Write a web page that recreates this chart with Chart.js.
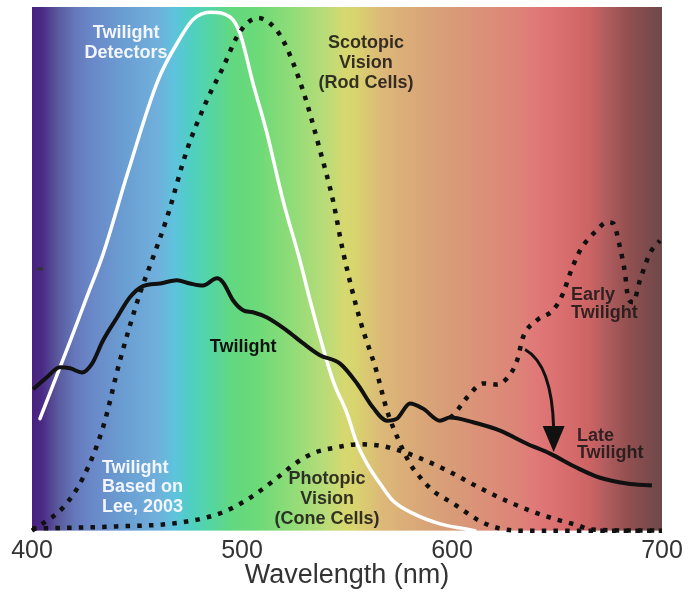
<!DOCTYPE html>
<html>
<head>
<meta charset="utf-8">
<script src="https://cdn.jsdelivr.net/npm/chart.js@4.4.1/dist/chart.umd.min.js"></script>
<style>
  html, body { margin: 0; padding: 0; background: #fff; }
  #wrap { width: 699px; height: 594px; }
</style>
</head>
<body>
<div id="wrap"><canvas id="myChart"></canvas></div>
<script>
// x axis ticks (nm)
const xTicks = [400, 500, 600, 700];

// Twilight detectors (white curve)
const detectorNm  = [403.8, 418, 426, 434, 445.7, 460, 470.5, 476.7, 484.8, 494.3, 499, 505.2, 511.9, 519.5, 527.6, 532.4, 543.3, 550, 554.8, 559.5, 565.7, 571.9, 581.4, 594.3, 605.2, 611];
const detectorVal = [21.4, 36.0, 44.5, 53.0, 68.5, 86.0, 94.0, 97.6, 99.0, 98.1, 95.0, 85.5, 75.9, 63.1, 51.6, 44.0, 28.7, 22.4, 16.6, 12.8, 9.0, 5.7, 3.3, 1.3, 0.4, 0];

// Scotopic vision (rod cells)
const rodNm  = [400, 403.8, 414.8, 424.3, 433.8, 441.9, 451.4, 457.1, 464.3, 473.8, 483.3, 491, 497.6, 502.4, 507.6, 513.3, 519.5, 529, 537.1, 543.3, 548, 556, 564, 569, 574, 580, 585, 591, 600.5, 613, 621, 632, 700];
const rodVal = [0, 1.0, 4.4, 10.1, 19.7, 32.5, 45.3, 51.6, 59.8, 72.7, 82.2, 88.5, 94.3, 96.9, 97.9, 96.9, 93.7, 84.1, 72.7, 63.1, 53.5, 40.5, 30.5, 23, 17.8, 12.8, 10.1, 7.6, 5.2, 1.9, 0.6, 0, 0];

// Photopic vision (cone cells)
const coneNm  = [400, 440, 470, 489.5, 502, 510, 518, 526, 534, 545, 556, 566, 575, 585, 597.6, 613, 627.6, 640, 650, 660, 666, 700];
const coneVal = [0.4, 0.8, 1.5, 3.3, 5.8, 8, 10.5, 13, 14.8, 15.9, 16.5, 16.2, 15.3, 13.8, 11.5, 8.2, 5.4, 3.4, 2.1, 1.0, 0.2, 0];

// Twilight based on Lee 2003 (late twilight, solid)
const twilightNm  = [400.5, 407.1, 413.3, 418.1, 423.8, 428.6, 433.8, 440.5, 446.7, 452.9, 461, 469, 475.2, 481.4, 488.1, 491, 495.7, 500.5, 505.2, 511.9, 521.4, 529, 537.1, 546.7, 554.8, 562.4, 569, 573.8, 580, 586.2, 594.3, 599, 610, 622.9, 635.7, 646.7, 659.5, 670.5, 683.3, 695.2];
const twilightVal = [27.0, 29.3, 31.2, 31.0, 30.2, 31.9, 36.3, 40.7, 44.6, 46.7, 47.2, 47.8, 47.2, 46.8, 48.2, 47.4, 44.0, 42.1, 41.7, 40.7, 38.2, 35.8, 33.5, 31.9, 28.1, 23.5, 21.0, 21.4, 24.3, 23.3, 21.0, 21.6, 20.7, 19.1, 16.6, 14.7, 12.0, 10.1, 9.0, 8.6];

// Early twilight (dotted, branches off at ~600 nm)
const earlyNm  = [599, 600.5, 607.1, 614.8, 621.4, 626.2, 631, 633.8, 640.5, 648.1, 652.9, 656.2, 661, 669, 673.8, 676.7, 680, 682.4, 683.8, 686.2, 689.5, 694.3, 699];
const earlyVal = [21.6, 22.0, 25.4, 28.1, 27.9, 29.1, 32.5, 36.9, 40.2, 42.1, 45.3, 49.1, 53.5, 57.4, 58.9, 58.7, 54.1, 49.1, 44.6, 43.6, 47.8, 53.0, 55.4];

// arrow early -> late twilight: start, bend, end (nm, value)
const arrowPath = [[634.8, 34.6], [647.6, 31.7], [648.4, 15.0]];

// spectrum background (nm -> colour)
const spectrumStops = [
  [400, '#4a2080'], [404.8, '#4a2a85'], [412.4, '#5a5a9e'], [420.5, '#6478bb'],
  [428.6, '#6a88c8'], [444.3, '#6a9ed2'], [460, '#70b0dc'], [468.1, '#5cc4dc'],
  [476.2, '#4fd0c0'], [485.7, '#55d6a0'], [495.2, '#62d880'], [507.6, '#6cda78'],
  [523.8, '#90dc78'], [539.5, '#b8dc78'], [549, '#d6d870'], [553.8, '#d8d46e'],
  [567.1, '#dcb878'], [583.3, '#daa878'], [599, '#d89c78'], [614.8, '#dc9078'],
  [631, '#dc8478'], [640.5, '#e07878'], [654.8, '#d86c6c'], [665.7, '#cc6464'],
  [673.8, '#b05c5e'], [683.3, '#945050'], [694.3, '#7a4a4c'], [700, '#6e4848']
];

const dark = 'rgba(28,24,24,0.88)';
const notes = [
  { lines: ['Twilight', 'Detectors'], at: [444.8, 95.0], gap: 20, align: 'center', color: '#f4f6ff' },
  { lines: ['Scotopic', 'Vision', '(Rod Cells)'], at: [559.0, 93.1], gap: 20, align: 'center', color: dark },
  { lines: ['Twilight'], at: [500.5, 35.0], gap: 20, align: 'center', color: '#111' },
  { lines: ['Twilight', 'Based on', 'Lee, 2003'], at: [433.3, 12.0], gap: 19.5, align: 'left', color: '#f4f6ff' },
  { lines: ['Photopic', 'Vision', '(Cone Cells)'], at: [540.5, 9.9], gap: 20, align: 'center', color: dark },
  { lines: ['Early', 'Twilight'], at: [656.7, 44.9], gap: 18, align: 'left', color: dark },
  { lines: ['Late', 'Twilight'], at: [659.5, 18.0], gap: 17, align: 'left', color: dark }
];

const pts = (xs, ys) => xs.map((x, i) => ({ x: x, y: ys[i] }));

const spectrumPlugin = {
  id: 'spectrum',
  beforeDatasetsDraw(chart) {
    const { ctx, chartArea: a, scales: { x } } = chart;
    const g = ctx.createLinearGradient(a.left, 0, a.right, 0);
    spectrumStops.forEach(([nm, c]) => {
      const t = (x.getPixelForValue(nm) - a.left) / (a.right - a.left);
      g.addColorStop(Math.min(1, Math.max(0, t)), c);
    });
    ctx.save();
    ctx.fillStyle = g;
    ctx.fillRect(a.left, a.top, a.right - a.left, a.bottom - a.top);
    // small mark on the left edge at half height
    ctx.strokeStyle = '#333';
    ctx.lineWidth = 3;
    const ym = chart.scales.y.getPixelForValue(50);
    ctx.beginPath();
    ctx.moveTo(a.left + 5, ym);
    ctx.lineTo(a.left + 11, ym);
    ctx.stroke();
    ctx.restore();
  }
};

const notesPlugin = {
  id: 'notes',
  afterDatasetsDraw(chart) {
    const { ctx, scales: { x, y } } = chart;
    ctx.save();

    // arrow
    const p = arrowPath.map(([nm, v]) => [x.getPixelForValue(nm), y.getPixelForValue(v)]);
    const headLen = 26, headHalf = 11;
    ctx.strokeStyle = '#111';
    ctx.fillStyle = '#111';
    ctx.lineWidth = 3;
    ctx.beginPath();
    ctx.moveTo(p[0][0], p[0][1]);
    ctx.quadraticCurveTo(p[1][0], p[1][1], p[2][0], p[2][1] - headLen + 2);
    ctx.stroke();
    ctx.beginPath();
    ctx.moveTo(p[2][0], p[2][1]);
    ctx.lineTo(p[2][0] - headHalf, p[2][1] - headLen);
    ctx.lineTo(p[2][0] + headHalf, p[2][1] - headLen);
    ctx.closePath();
    ctx.fill();

    // text labels
    ctx.font = 'bold 18px "Liberation Sans", Arial, sans-serif';
    ctx.textBaseline = 'middle';
    notes.forEach(n => {
      const px = x.getPixelForValue(n.at[0]);
      const py = y.getPixelForValue(n.at[1]);
      ctx.fillStyle = n.color;
      ctx.textAlign = n.align;
      n.lines.forEach((t, i) => ctx.fillText(t, px, py + i * n.gap));
    });
    ctx.restore();
  }
};

const dotted = { borderColor: '#111', borderWidth: 4.5, borderDash: [4.5, 7.2], borderCapStyle: 'butt' };

new Chart(document.getElementById('myChart').getContext('2d'), {
  type: 'line',
  data: {
    datasets: [
      { label: 'Twilight', data: pts(twilightNm, twilightVal), borderColor: '#111', borderWidth: 4, order: 0 },
      Object.assign({ label: 'Early Twilight', data: pts(earlyNm, earlyVal), order: 1 }, dotted),
      Object.assign({ label: 'Scotopic Vision', data: pts(rodNm, rodVal), order: 2 }, dotted),
      Object.assign({ label: 'Photopic Vision', data: pts(coneNm, coneVal), order: 3 }, dotted),
      { label: 'Twilight Detectors', data: pts(detectorNm, detectorVal), borderColor: '#ffffff', borderWidth: 3.5, borderCapStyle: 'round', order: 4 }
    ]
  },
  options: {
    responsive: true,
    maintainAspectRatio: false,
    animation: false,
    devicePixelRatio: 1,
    layout: { padding: { left: 32, right: 37, top: 7, bottom: 14 } },
    elements: {
      point: { radius: 0 },
      line: { cubicInterpolationMode: 'monotone', fill: false }
    },
    datasets: { line: { clip: false } },
    plugins: { legend: { display: false }, tooltip: { enabled: false } },
    scales: {
      x: {
        type: 'linear',
        min: 400,
        max: 700,
        afterBuildTicks: s => { s.ticks = xTicks.map(v => ({ value: v })); },
        grid: { display: false, drawTicks: false },
        border: { display: false },
        ticks: {
          padding: 11,
          color: '#333',
          font: { family: '"Liberation Sans", Arial, sans-serif', size: 25, lineHeight: 0.76 }
        },
        title: {
          display: true,
          text: 'Wavelength (nm)',
          color: '#333',
          padding: 0,
          font: { family: '"Liberation Sans", Arial, sans-serif', size: 27, lineHeight: 0.31 }
        }
      },
      y: { display: false, min: 0, max: 100 }
    }
  },
  plugins: [spectrumPlugin, notesPlugin]
});
</script>
</body>
</html>
